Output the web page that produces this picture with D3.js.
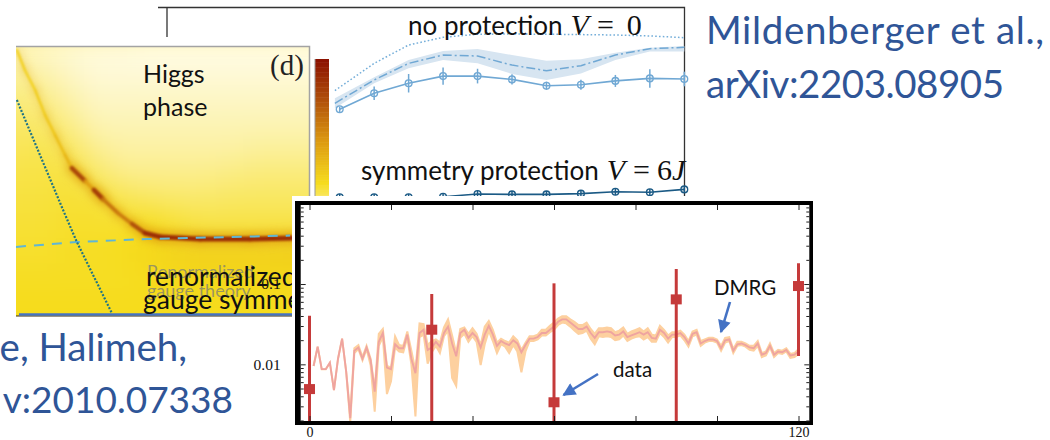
<!DOCTYPE html>
<html>
<head>
<meta charset="utf-8">
<script src="https://cdn.jsdelivr.net/npm/d3@7"></script>
<style>
  html, body { margin: 0; padding: 0; background: #fff; overflow: hidden; }
  svg { display: block; }
  .slide { font-family: Lato, "Open Sans", sans-serif; }
  .blue { fill: #2f5597; font-size: 38.5px; }
  .note { fill: #111; font-size: 25px; }
  .math { font-family: "Liberation Serif", serif; font-size: 30px; }
</style>
</head>
<body>
<svg id="chart" width="1050" height="440"></svg>
<script>
// top panel (Mildenberger et al.)
const sweep = [0, 1, 2, 3, 4, 5, 6, 7, 8, 9, 10];
const curveSweep = [-0.14, 1, 2, 3, 4, 5, 6, 7, 8, 9, 10];
const noProtection = [0.470, 0.553, 0.605, 0.642, 0.642, 0.625, 0.592, 0.597, 0.617, 0.630, 0.627];
const noProtectionErr = [0.014, 0.035, 0.048, 0.045, 0.038, 0.026, 0.021, 0.026, 0.031, 0.048, 0.038];
const simulated = [0.501, 0.622, 0.708, 0.751, 0.746, 0.699, 0.670, 0.696, 0.751, 0.784, 0.791];
const simulatedHigh = [0.527, 0.636, 0.725, 0.772, 0.782, 0.751, 0.722, 0.729, 0.763, 0.789, 0.798];
const simulatedLow = [0.475, 0.605, 0.682, 0.725, 0.708, 0.653, 0.622, 0.656, 0.725, 0.769, 0.769];
const ideal = [0.567, 0.708, 0.803, 0.843, 0.859, 0.860, 0.859, 0.857, 0.855, 0.850, 0.841];
const protectedRun = [0.014, 0.014, 0.014, 0.017, 0.031, 0.029, 0.029, 0.033, 0.043, 0.040, 0.055];

// phase diagram (rows go top to bottom)
const heat = [
  [.05, .06, .04, .03, .02, .02, .01, .01, .01, .01, .01, .01, .01, .01],
  [.09, .10, .08, .05, .03, .03, .03, .03, .03, .03, .03, .03, .03, .03],
  [.12, .14, .12, .08, .05, .05, .05, .05, .05, .05, .05, .05, .05, .05],
  [.15, .16, .16, .12, .07, .07, .07, .07, .07, .07, .07, .07, .07, .07],
  [.17, .18, .19, .17, .11, .09, .09, .09, .09, .09, .10, .10, .10, .10],
  [.19, .20, .20, .21, .16, .12, .12, .12, .12, .13, .14, .14, .14, .14],
  [.20, .21, .21, .22, .22, .19, .17, .16, .16, .17, .17, .17, .17, .17],
  [.22, .22, .22, .23, .23, .23, .25, .22, .20, .20, .20, .20, .20, .20],
  [.23, .23, .23, .24, .24, .25, .27, .29, .30, .30, .30, .31, .31, .32],
  [.24, .24, .24, .24, .24, .24, .25, .26, .27, .27, .27, .27, .27, .27],
  [.25, .25, .25, .25, .25, .25, .25, .25, .25, .25, .25, .25, .25, .25],
  [.25, .25, .25, .25, .25, .25, .25, .25, .25, .25, .25, .25, .25, .25]
];
const ridgeX = [.003, .03, .065, .099, .133, .167, .19, .235, .265, .296, .347, .395, .439, .49, .626, .796, .95];
const ridgeY = [.985, .911, .837, .744, .67, .596, .548, .5, .467, .433, .381, .341, .307, .293, .285, .285, .289];
const ridgeV = [.27, .30, .29, .31, .33, .36, .40, .78, .48, .82, .62, .60, .75, .88, .88, .88, .88];
const dashedX = [0, .207, .446, .932];
const dashedY = [.256, .274, .285, .298];
const dottedX = [.003, .16, .207, .326];
const dottedY = [.800, .393, .274, .011];

// inset: DMRG vs data
const dmrgT = d3.range(1, 121);
const dmrgLog = [
  -2.02, -1.78, -2.06, -2.06, -1.98, -2.32, -1.93, -1.68, -2.09, -2.67,
  -1.83, -1.79, -1.93, -1.79, -1.95, -2.34, -1.72, -1.61, -2.04, -2.06,
  -1.75, -1.80, -1.80, -1.63, -1.93, -2.11, -1.61, -1.57, -1.82, -1.79,
  -1.72, -1.78, -1.61, -1.53, -1.74, -1.90, -1.61, -1.57, -1.67, -1.61,
  -1.66, -1.79, -1.63, -1.52, -1.63, -1.77, -1.71, -1.74, -1.76, -1.70,
  -1.74, -1.85, -1.76, -1.68, -1.68, -1.66, -1.61, -1.61, -1.57, -1.53,
  -1.47, -1.44, -1.44, -1.48, -1.52, -1.56, -1.56, -1.53, -1.61, -1.67,
  -1.60, -1.60, -1.59, -1.60, -1.64, -1.63, -1.59, -1.66, -1.64, -1.62,
  -1.60, -1.63, -1.60, -1.67, -1.68, -1.57, -1.61, -1.68, -1.63, -1.63,
  -1.61, -1.66, -1.74, -1.62, -1.60, -1.74, -1.71, -1.69, -1.69, -1.71,
  -1.80, -1.70, -1.69, -1.83, -1.75, -1.74, -1.76, -1.79, -1.80, -1.74,
  -1.88, -1.86, -1.77, -1.88, -1.84, -1.85, -1.82, -1.89, -1.88, -1.84
];
const dmrgBelow = [
  0, 0, 0, 0, 0, 0, 0, 0, 0, .05,
  .03, .02, .02, .02, .06, .25, .05, .05, .33, .15,
  .04, .04, .05, .04, .07, .54, .05, .06, .17, .06,
  .05, .08, .04, .05, .43, .37, .06, .05, .05, .04,
  .06, .22, .12, .06, .08, .09, .04, .04, .10, .06,
  .10, .25, .08, .03, .03, .03, .03, .03, .03, .04,
  .04, .04, .05, .05, .06, .06, .05, .05, .07, .08,
  .05, .06, .06, .06, .06, .06, .05, .05, .04, .04,
  .05, .06, .06, .05, .04, .04, .05, .05, .03, .03,
  .03, .04, .04, .03, .03, .03, .02, .02, .02, .02,
  .03, .03, .02, .03, .02, .02, .02, .03, .03, .03,
  .03, .03, .02, .03, .02, .02, .02, .03, .03, .03
];
const dmrgAbove = [
  0, 0, 0, 0, 0, 0, 0, 0, 0, .05,
  .03, .03, .02, .02, .02, .03, .10, .05, .02, .02,
  .10, .04, .03, .04, .10, .03, .12, .07, .06, .08,
  .03, .05, .07, .09, .10, .04, .05, .03, .05, .06,
  .04, .03, .10, .06, .06, .04, .03, .03, .03, .05,
  .04, .03, .03, .03, .03, .03, .04, .04, .05, .05,
  .04, .04, .04, .04, .05, .05, .05, .05, .05, .05,
  .05, .05, .05, .05, .04, .05, .05, .04, .05, .05,
  .05, .04, .05, .04, .04, .05, .04, .04, .03, .03,
  .03, .03, .03, .03, .03, .03, .02, .02, .02, .02,
  .03, .03, .03, .02, .03, .02, .02, .02, .03, .03,
  .02, .02, .03, .02, .02, .02, .02, .02, .02, .03
];
const dataT = [0, 30, 60, 90, 120];
const dataMean = [0.00492, 0.027, 0.00337, 0.0644, 0.0944];
const dataHigh = [0.0403, 0.075, 0.102, 0.154, 0.181];
const dataLow = [0.001, 0.001, 0.001, 0.001, 0.0127];

const svg = d3.select("#chart").attr("class", "slide");
const defs = svg.append("defs");

// ---- top panel ----
const topX = d3.scaleLinear().domain([0, 10]).range([339.7, 684.3]);
const topY = d3.scaleLinear().domain([0, 1]).range([200, 7]);
const curve = d3.line().x(d => topX(d[0])).y(d => topY(d[1]));
const lightBlue = "#70a8d4";
const darkBlue = "#1b5a85";

const topPanel = svg.append("g");
topPanel.append("path").attr("d", "M158,7.5H684.5V197M167,7.5V37").attr("fill", "none").attr("stroke", "#333").attr("stroke-width", 1.3);

topPanel.append("path")
  .attr("d", d3.area().x((d, i) => topX(curveSweep[i])).y0((d, i) => topY(simulatedLow[i])).y1(d => topY(d))(simulatedHigh))
  .attr("fill", "#d7e5f1");
topPanel.append("path")
  .attr("d", curve(d3.zip(curveSweep, simulated)))
  .attr("fill", "none").attr("stroke", lightBlue).attr("stroke-width", 1.5).attr("stroke-dasharray", "9 3 2 3");
topPanel.append("path")
  .attr("d", curve(d3.zip(curveSweep, ideal)))
  .attr("fill", "none").attr("stroke", "#74aed9").attr("stroke-width", 1.5).attr("stroke-dasharray", "1.6 2.2");

function drawRun(values, errs, colour) {
  topPanel.append("path").attr("d", curve(d3.zip(sweep, values)))
    .attr("fill", "none").attr("stroke", colour).attr("stroke-width", 1.6);
  const m = topPanel.selectAll(null).data(values).enter().append("g")
    .attr("transform", (d, i) => `translate(${topX(sweep[i])},${topY(d)})`);
  m.append("circle").attr("r", 3.4).attr("fill", "none").attr("stroke", colour).attr("stroke-width", 1.3);
  m.append("line").attr("y1", (d, i) => errs ? -topY(0) + topY(errs[i]) : -3.4)
    .attr("y2", (d, i) => errs ? topY(0) - topY(errs[i]) : 3.4)
    .attr("stroke", colour).attr("stroke-width", 1.5);
}
drawRun(noProtection, noProtectionErr, lightBlue);
drawRun(protectedRun, null, darkBlue);

function mathLabel(parent, x, y, words, symbol, tail, gap) {
  const t = parent.append("text").attr("class", "note").style("font-size", "26px").attr("x", x).attr("y", y);
  t.append("tspan").text(words);
  t.append("tspan").attr("class", "math").attr("font-style", "italic").attr("dx", 8).text(symbol);
  t.append("tspan").attr("class", "math").attr("dx", 8).text("=");
  t.append("tspan").attr("class", "math").attr("dx", gap).text(tail[0]);
  if (tail[1]) t.append("tspan").attr("class", "math").attr("font-style", "italic").text(tail[1]);
}
mathLabel(topPanel, 408, 35, "no protection", "V", ["0"], 13);
mathLabel(topPanel, 361, 180, "symmetry protection", "V", ["6", "J"], 7);

// ---- phase diagram ----
const hx = d3.scaleLinear().domain([0, 1]).range([16, 310]);
const hy = d3.scaleLinear().domain([0, 1]).range([316, 46]);
const heatColour = d3.scaleLinear()
  .domain([0, .25, .5, .75, 1])
  .range(["#fffdf0", "#f6dc1c", "#dd9a10", "#b0500a", "#8a0f00"]);

defs.append("clipPath").attr("id", "heatClip").append("rect").attr("x", 16).attr("y", 46).attr("width", 294).attr("height", 270);
const blurFilter = (id, sd) => defs.append("filter").attr("id", id)
  .attr("x", "-20%").attr("y", "-20%").attr("width", "140%").attr("height", "140%")
  .attr("color-interpolation-filters", "sRGB")
  .append("feGaussianBlur").attr("stdDeviation", sd);
blurFilter("soft", 14);
blurFilter("softer", 4);
blurFilter("edge", 1.1);

const map = svg.append("g").attr("clip-path", "url(#heatClip)");
map.append("rect").attr("x", 16).attr("y", 46).attr("width", 294).attr("height", 270).attr("fill", heatColour(.15));
const colBand = d3.scaleBand().domain(d3.range(heat[0].length)).range([-24, 350]);
const rowBand = d3.scaleBand().domain(d3.range(heat.length)).range([34, 340]);
const cells = map.append("g").attr("filter", "url(#soft)");
heat.forEach((row, r) => {
  cells.selectAll(null).data(row).enter().append("rect")
    .attr("x", (d, c) => colBand(c)).attr("y", rowBand(r))
    .attr("width", colBand.bandwidth() + 1).attr("height", rowBand.bandwidth() + 1)
    .attr("fill", d => heatColour(d));
});

const ridge = d3.zip(ridgeX, ridgeY, ridgeV);
const ridgeLine = d3.line().x(d => hx(d[0])).y(d => hy(d[1]));
const halo = map.append("g").attr("filter", "url(#softer)");
halo.selectAll(null).data(d3.pairs(ridge)).enter().append("path")
  .attr("d", d => ridgeLine(d))
  .attr("fill", "none").attr("stroke-linecap", "round")
  .attr("stroke", heatColour(.45))
  .attr("stroke-opacity", d => d[1][2])
  .attr("stroke-width", d => 3 + 11 * d[1][2]);
const ridgeG = map.append("g").attr("filter", "url(#edge)");
ridgeG.selectAll(null).data(d3.pairs(ridge)).enter().append("path")
  .attr("d", d => ridgeLine(d))
  .attr("fill", "none").attr("stroke-linecap", "round")
  .attr("stroke", d => heatColour(d[1][2]))
  .attr("stroke-width", d => 1 + 4.5 * d[1][2]);

map.append("path").attr("d", d3.line().x(d => hx(d[0])).y(d => hy(d[1]))(d3.zip(dashedX, dashedY)))
  .attr("fill", "none").attr("stroke", "#5fb6d6").attr("stroke-width", 2).attr("stroke-dasharray", "10 8");
map.append("path").attr("d", d3.line().x(d => hx(d[0])).y(d => hy(d[1]))(d3.zip(dottedX, dottedY)))
  .attr("fill", "none").attr("stroke", "#1f7486").attr("stroke-width", 2.2).attr("stroke-dasharray", "2 1.6");

svg.append("path").attr("d", "M16,46.5H309.5V316").attr("fill", "none").attr("stroke", "#a3a3a3").attr("stroke-width", 1.5);
svg.append("path").attr("d", "M16,316H310").attr("stroke", "#3a2a10").attr("stroke-width", 1.2);
svg.append("path").attr("d", "M19,314.5H300").attr("stroke", "#4472c4").attr("stroke-width", 2.6);

svg.append("text").attr("x", 270).attr("y", 75).style("font-family", "Liberation Serif").attr("font-size", 29).attr("fill", "#222").text("(d)");
svg.append("text").attr("class", "note").attr("x", 143).attr("y", 83).text("Higgs");
svg.append("text").attr("class", "note").attr("x", 143).attr("y", 116).text("phase");
svg.append("text").attr("x", 147).attr("y", 278).attr("font-size", 18).attr("fill", "#8a8a6a").attr("fill-opacity", .85).text("Renormalized");
svg.append("text").attr("x", 147).attr("y", 297).attr("font-size", 18).attr("fill", "#8a8a6a").attr("fill-opacity", .85).text("gauge theory");
svg.append("text").attr("class", "note").style("font-size", "26.5px").attr("x", 146).attr("y", 286).text("renormalized");
svg.append("text").attr("class", "note").style("font-size", "26.5px").attr("x", 143).attr("y", 309).text("gauge symmetry");

// colour bar
const barY = d3.scaleLinear().domain([.17, 1]).range([197, 59]);
const barSteps = d3.range(.17, 1, .01);
svg.append("g").selectAll("rect").data(barSteps).enter().append("rect")
  .attr("x", 315).attr("width", 14)
  .attr("y", d => barY(d + .01)).attr("height", d => barY(d) - barY(d + .01) + .5)
  .attr("fill", d => heatColour(d));
svg.append("path").attr("d", "M315,59V197").attr("stroke", "#999").attr("stroke-width", 1);

// ---- citations ----
svg.append("text").attr("class", "blue").attr("x", 706).attr("y", 44).attr("textLength", 338).text("Mildenberger et al.,");
svg.append("text").attr("class", "blue").attr("x", 706).attr("y", 98).attr("textLength", 298).text("arXiv:2203.08905");
svg.append("text").attr("class", "blue").attr("text-anchor", "end").attr("x", 187).attr("y", 361).text("e, Halimeh,");
svg.append("text").attr("class", "blue").attr("text-anchor", "end").attr("x", 233).attr("y", 413).style("font-size", "37px").text("v:2010.07338");

// ---- inset ----
const x = d3.scaleLinear().domain([0, 120]).range([309.5, 798.5]);
const y = d3.scaleLog().domain([0.00197, 0.964]).range([421, 205]);
const inset = svg.append("g");
inset.append("rect").attr("x", 292).attr("y", 196).attr("width", 523).attr("height", 244).attr("fill", "#fff");
inset.append("rect").attr("x", 295).attr("y", 201).attr("width", 518).attr("height", 224).attr("fill", "#000");
inset.append("rect").attr("x", 300.7).attr("y", 205).attr("width", 508.6).attr("height", 216).attr("fill", "#fff");

defs.append("clipPath").attr("id", "plotClip").append("rect").attr("x", 300.7).attr("y", 205).attr("width", 508.6).attr("height", 216);
const plot = inset.append("g").attr("clip-path", "url(#plotClip)");

const xTicks = d3.range(0, 121, 20);
const yMajor = [0.01, 0.1];
const yMinor = y.ticks().filter(d => !yMajor.includes(d));
const tickStyle = g => { g.select(".domain").remove(); g.selectAll("line").attr("stroke", "#222"); };

inset.append("g").attr("transform", "translate(0,421)")
  .call(d3.axisBottom(x).tickValues(xTicks).tickSize(-5).tickPadding(6).tickFormat(d => (d === 0 || d === 120) ? d : ""))
  .call(tickStyle)
  .call(g => g.selectAll("text").attr("font-family", "Liberation Serif").attr("font-size", 14).attr("fill", "#111"));
inset.append("g").attr("transform", "translate(0,205)")
  .call(d3.axisTop(x).tickValues(xTicks).tickSize(-5).tickFormat(""))
  .call(tickStyle);
inset.append("g").attr("transform", "translate(300.7,0)")
  .call(d3.axisLeft(y).tickValues(yMajor).tickSize(-5).tickPadding(20).tickFormat(d3.format("")))
  .call(tickStyle)
  .call(g => g.selectAll("text").attr("font-family", "Liberation Serif").attr("font-size", 15.5).attr("fill", "#111"));
inset.append("g").attr("transform", "translate(300.7,0)")
  .call(d3.axisLeft(y).tickValues(yMinor).tickSize(-3).tickFormat(""))
  .call(tickStyle);
inset.append("g").attr("transform", "translate(809.3,0)")
  .call(d3.axisRight(y).tickValues(yMajor).tickSize(-5).tickFormat(""))
  .call(tickStyle);
inset.append("g").attr("transform", "translate(809.3,0)")
  .call(d3.axisRight(y).tickValues(yMinor).tickSize(-3).tickFormat(""))
  .call(tickStyle);

plot.append("path")
  .attr("d", d3.area()
    .x((d, i) => x(dmrgT[i]))
    .y0((d, i) => y(10 ** (d - dmrgBelow[i])))
    .y1((d, i) => y(10 ** (d + dmrgAbove[i])))(dmrgLog))
  .attr("fill", "#fdd09f").attr("stroke", "#fdd09f").attr("stroke-width", 2);
plot.append("path")
  .attr("d", d3.line().x((d, i) => x(dmrgT[i])).y(d => y(10 ** d))(dmrgLog))
  .attr("fill", "none").attr("stroke", "#efa4a0").attr("stroke-width", 1.9);

const red = "#c53a3a";
plot.selectAll(".err").data(dataT).enter().append("line")
  .attr("class", "err")
  .attr("x1", d => x(d)).attr("x2", d => x(d))
  .attr("y1", (d, i) => y(dataHigh[i])).attr("y2", (d, i) => y(dataLow[i]))
  .attr("stroke", red).attr("stroke-width", 3);
plot.selectAll(".pt").data(dataT).enter().append("rect")
  .attr("class", "pt")
  .attr("x", d => x(d) - 5.5).attr("width", 11)
  .attr("y", (d, i) => y(dataMean[i]) - 5).attr("height", 10)
  .attr("fill", red);

// annotations
const arrowBlue = "#4472c4";
defs.append("marker").attr("id", "head").attr("viewBox", "0 0 10 10").attr("refX", 9).attr("refY", 5)
  .attr("markerWidth", 5.4).attr("markerHeight", 5).attr("orient", "auto")
  .append("path").attr("d", "M0,0L10,5L0,10Z").attr("fill", arrowBlue);
const note = (tx, ty, label) => inset.append("text").attr("x", tx).attr("y", ty).attr("font-size", 20.5).attr("fill", "#111").text(label);
note(714, 295, "DMRG");
note(613, 377, "data");
inset.append("line").attr("x1", 730).attr("y1", 302).attr("x2", 721).attr("y2", 332)
  .attr("stroke", arrowBlue).attr("stroke-width", 2.6).attr("marker-end", "url(#head)");
inset.append("line").attr("x1", 598).attr("y1", 374).attr("x2", 563.5).attr("y2", 395)
  .attr("stroke", arrowBlue).attr("stroke-width", 2.6).attr("marker-end", "url(#head)");
</script>
</body>
</html>
